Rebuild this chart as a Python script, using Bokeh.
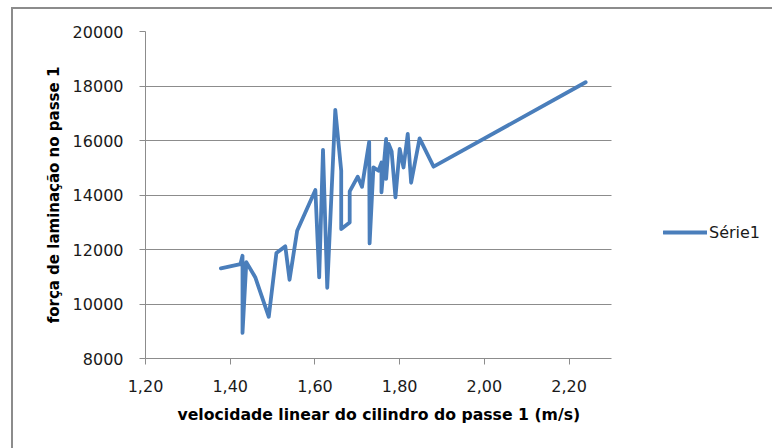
from bokeh.plotting import figure
from bokeh.models import (Range1d, FixedTicker, CustomJSTickFormatter, Legend,
                          LegendItem, ColumnDataSource, BoxAnnotation, Title)
from bokeh.embed import file_html
from bokeh.resources import INLINE

# ---- data ----
velocidade = [1.378, 1.424, 1.429, 1.429, 1.438, 1.459, 1.491, 1.509, 1.530, 1.540,
              1.558, 1.601, 1.610, 1.619, 1.629, 1.648, 1.662, 1.662, 1.682, 1.682,
              1.701, 1.711, 1.728, 1.729, 1.738, 1.750, 1.757, 1.757, 1.768, 1.768,
              1.774, 1.781, 1.790, 1.800, 1.809, 1.819, 1.827, 1.847, 1.880, 2.239]
forca = [11305, 11463, 11770, 8940, 11536, 10985, 9530, 11870, 12115, 10888,
         12690, 14184, 10974, 15654, 10596, 17123, 14890, 12750, 12994, 14133,
         14673, 14300, 15950, 12223, 15015, 14890, 15190, 14100, 16058, 14590,
         15874, 15600, 13910, 15690, 15010, 16240, 14450, 16080, 15040, 18138]

x_ticks = [1.2, 1.4, 1.6, 1.8, 2.0, 2.2]
y_ticks = [8000, 10000, 12000, 14000, 16000, 18000, 20000]
x_axis_range = (1.2, 2.3)
y_axis_range = (8000, 20000)
series_name = "Série1"
x_title = "velocidade linear do cilindro do passe 1 (m/s)"
y_title = "força de laminação no passe 1"

LINE_COLOR = "#4a7ebb"
GRID_COLOR = "#8c8c8c"
FONT = "DejaVu Sans"

# The plotted axis spans 466 px; the frame is widened to the window's right edge
# so that the legend (drawn inside the frame) sits to the right of the plot area.
AXIS_PX = 466
FRAME_W = 772 - 145
x_end = x_axis_range[0] + (x_axis_range[1] - x_axis_range[0]) * FRAME_W / AXIS_PX

p = figure(frame_width=FRAME_W, frame_height=327, output_backend="svg",
           toolbar_location=None,
           x_range=Range1d(x_axis_range[0], x_end),
           y_range=Range1d(*y_axis_range),
           min_border_left=145, min_border_right=0,
           min_border_top=31, min_border_bottom=90)
p.outline_line_color = None
p.background_fill_color = "white"
p.border_fill_color = None  # let the host background (with the chart border) show

src = ColumnDataSource(dict(x=velocidade, y=forca))
r = p.line("x", "y", source=src, line_color=LINE_COLOR, line_width=3.8,
           line_join="round", line_cap="round")

# grid
p.xgrid.grid_line_color = None
p.ygrid.grid_line_color = GRID_COLOR
p.ygrid.grid_line_width = 1
try:
    p.ygrid[0].cross_bounds = x_axis_range
except Exception:
    # cover the grid lines beyond the plot area
    p.add_layout(BoxAnnotation(left=x_axis_range[1], fill_color="white",
                               fill_alpha=1, line_color=None, level="underlay"))

# axes
xa = p.xaxis[0]
ya = p.yaxis[0]
xa.bounds = x_axis_range
xa.ticker = FixedTicker(ticks=x_ticks)
ya.ticker = FixedTicker(ticks=y_ticks)
xa.formatter = CustomJSTickFormatter(code="return tick.toFixed(2).replace('.', ',');")
for ax in (xa, ya):
    ax.axis_line_color = GRID_COLOR
    ax.major_tick_line_color = GRID_COLOR
    ax.major_tick_in = 0
    ax.major_tick_out = 6
    ax.minor_tick_line_color = None
    ax.major_label_text_font = FONT
    ax.major_label_text_font_size = "16px"
    ax.major_label_text_color = "#1a1a1a"
    ax.axis_label_text_font = FONT
    ax.axis_label_text_font_style = "bold"
    ax.axis_label_text_color = "#000000"

xa.major_label_standoff = 15
ya.axis_label = y_title
ya.axis_label_text_font_size = "15px"
ya.major_label_standoff = 16
ya.axis_label_standoff = 7

# x-axis title centred under the plotted axis (not under the widened frame)
xt = Title(text=x_title, align="left", offset=32, standoff=17,
           text_font=FONT, text_font_style="bold", text_font_size="15.7px",
           text_color="#000000")
p.add_layout(xt, "below")

# legend to the right of the plot area
legend = Legend(items=[LegendItem(label=series_name, renderers=[r])],
                location=(518, 116), glyph_width=44, glyph_height=20,
                label_height=20, label_standoff=2, padding=0, margin=0, spacing=0,
                border_line_color=None, background_fill_alpha=0,
                label_text_font=FONT, label_text_font_size="16px",
                label_text_color="#1a1a1a")
p.add_layout(legend)

# chart-area border (left and top edges visible in the window), drawn as the
# figure element's own background so that nothing else inherits it
p.styles = {
    "background-color": "white",
    "background-image": ("linear-gradient(#8c8c8c, #8c8c8c), "
                         "linear-gradient(#8c8c8c, #8c8c8c)"),
    "background-position": "11px 7px, 11px 7px",
    "background-size": "2px 100%, 100% 2px",
    "background-repeat": "no-repeat, no-repeat",
}

open("out.html", "w").write(file_html(p, INLINE))
